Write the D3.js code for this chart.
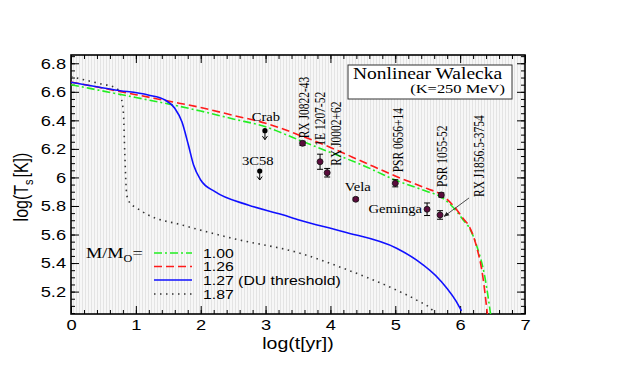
<!DOCTYPE html>
<html lang="en">
<head>
<meta charset="utf-8">
<title>Nonlinear Walecka cooling curves</title>
<style>
  body { margin: 0; background: #fff; }
  .sans { font-family: "Liberation Sans", Arial, sans-serif; }
  .serif { font-family: "Liberation Serif", "Times New Roman", serif; }
</style>
</head>
<body>
<svg id="chart" width="623" height="374"></svg>
<script src="https://d3js.org/d3.v7.min.js"></script>
<script>
// cooling curves, log(t[yr]) vs log(Ts[K])
const masses = ["1.00", "1.26", "1.27 (DU threshold)", "1.87"];

const age100 = [0, 0.5, 1.0, 1.5, 2.0, 2.5, 3.0, 3.5, 4.0, 4.5, 5.0, 5.5, 5.7, 5.95, 6.05, 6.13, 6.26, 6.38, 6.47];
const temp100 = [6.650, 6.605, 6.56, 6.515, 6.465, 6.41, 6.355, 6.265, 6.175, 6.085, 5.982, 5.90, 5.865, 5.76, 5.70, 5.655, 5.515, 5.305, 5.04];

const age126 = [0, 0.5, 1.0, 1.5, 2.0, 2.5, 3.0, 3.5, 4.0, 4.5, 5.0, 5.5, 5.7, 5.95, 6.05, 6.13, 6.25, 6.35, 6.42];
const temp126 = [6.668, 6.625, 6.58, 6.535, 6.49, 6.435, 6.38, 6.30, 6.21, 6.11, 6.01, 5.92, 5.882, 5.772, 5.71, 5.665, 5.52, 5.305, 5.04];

const age127 = [0, 0.68, 1.19, 1.45, 1.60, 1.71, 1.81, 1.89, 2.0, 2.22, 2.73, 3.25, 3.53, 4.2, 5.02, 5.33, 5.69, 6.0, 6.02];
const temp127 = [6.667, 6.613, 6.578, 6.543, 6.485, 6.39, 6.227, 6.087, 5.982, 5.90, 5.807, 5.74, 5.70, 5.62, 5.504, 5.42, 5.28, 5.083, 5.065];

const age187 = [0, 0.42, 0.70, 0.755, 0.79, 0.81, 0.83, 0.86, 0.91, 1.0, 1.19, 1.71, 2.48, 3.53, 4.2, 5.02, 5.33, 5.59, 5.62];
const temp187 = [6.706, 6.66, 6.625, 6.59, 6.52, 6.44, 6.157, 5.877, 5.82, 5.79, 5.737, 5.667, 5.574, 5.469, 5.363, 5.21, 5.14, 5.059, 5.04];

// observed pulsars
const starNames = ["Crab", "3C58", "RX J0822-43", "1E 1207-52", "RX J0002+62", "Vela",
                   "PSR 0656+14", "PSR 1055-52", "Geminga", "RX J1856.5-3754"];
const starAge = [2.99, 2.91, 3.57, 3.84, 3.95, 4.39, 5.0, 5.71, 5.49, 5.69];
const starTemp = [6.328, 6.045, 6.239, 6.11, 6.033, 5.847, 5.959, 5.877, 5.777, 5.737];
const starErr = [0, 0, 0.015, 0.053, 0.03, 0.01, 0.025, 0.015, 0.044, 0.03];
const starUpper = [true, true, false, false, false, false, false, false, false, false];

const xTicks = [0, 1, 2, 3, 4, 5, 6, 7];
const yTicks = [5.2, 5.4, 5.6, 5.8, 6, 6.2, 6.4, 6.6, 6.8];

const svg = d3.select("#chart");
const pLeft = 71, pRight = 525, pTop = 55, pBottom = 314;
const SX = 1.22; // the original is stretched sideways

const x = d3.scaleLinear().domain([0, 7]).range([pLeft, pRight]);
const y = d3.scaleLinear().domain([5.043, 6.858]).range([pBottom, pTop]);

// hatched background
const defs = svg.append("defs");
const pat = defs.append("pattern").attr("id", "hatch").attr("patternUnits", "userSpaceOnUse")
  .attr("width", 3).attr("height", 10);
pat.append("rect").attr("width", 3).attr("height", 10).attr("fill", "#f7f7f7");
pat.append("line").attr("x1", 1.5).attr("x2", 1.5).attr("y1", 0).attr("y2", 10)
  .attr("stroke", "#e4e4e4").attr("stroke-width", 1);
defs.append("clipPath").attr("id", "plotclip").append("rect")
  .attr("x", pLeft).attr("y", pTop).attr("width", pRight - pLeft).attr("height", pBottom - pTop);
defs.append("marker").attr("id", "arrowhead").attr("viewBox", "0 0 10 10")
  .attr("refX", 9).attr("refY", 5).attr("markerWidth", 7).attr("markerHeight", 7)
  .attr("orient", "auto").append("path").attr("d", "M0,1 L10,5 L0,9 z").attr("fill", "#222");

svg.append("rect").attr("x", pLeft).attr("y", pTop).attr("width", pRight - pLeft)
  .attr("height", pBottom - pTop).attr("fill", "url(#hatch)");

// axes with inward ticks
const xMinor = d3.range(0, 36).map(i => i / 5);
const yMinor = d3.range(101, 138).map(i => i / 20);

function fixText(sel) {
  sel.selectAll("text").attr("class", "sans").attr("font-size", 15)
    .attr("font-family", null).attr("transform", `scale(${SX},1)`);
  sel.select(".domain").remove();
}

svg.append("g").attr("transform", `translate(0,${pBottom})`)
  .call(d3.axisBottom(x).tickValues(xMinor).tickSize(-4).tickFormat("")).call(fixText);
svg.append("g").attr("transform", `translate(0,${pBottom})`)
  .call(d3.axisBottom(x).tickValues(xTicks).tickSize(-8).tickPadding(5).tickFormat(d3.format("d")))
  .call(fixText);
svg.append("g").attr("transform", `translate(0,${pTop})`)
  .call(d3.axisTop(x).tickValues(xMinor).tickSize(-4).tickFormat("")).call(fixText);
svg.append("g").attr("transform", `translate(0,${pTop})`)
  .call(d3.axisTop(x).tickValues(xTicks).tickSize(-8).tickFormat("")).call(fixText);

svg.append("g").attr("transform", `translate(${pLeft},0)`)
  .call(d3.axisLeft(y).tickValues(yMinor).tickSize(-4).tickFormat("")).call(fixText);
svg.append("g").attr("transform", `translate(${pLeft},0)`)
  .call(d3.axisLeft(y).tickValues(yTicks).tickSize(-8).tickPadding(4).tickFormat(d => String(+d.toFixed(1))))
  .call(fixText);
svg.append("g").attr("transform", `translate(${pRight},0)`)
  .call(d3.axisRight(y).tickValues(yMinor).tickSize(-4).tickFormat("")).call(fixText);
svg.append("g").attr("transform", `translate(${pRight},0)`)
  .call(d3.axisRight(y).tickValues(yTicks).tickSize(-8).tickFormat("")).call(fixText);

svg.selectAll(".tick line").attr("stroke", "#000").attr("stroke-width", 1);

svg.append("rect").attr("x", pLeft).attr("y", pTop).attr("width", pRight - pLeft)
  .attr("height", pBottom - pTop).attr("fill", "none").attr("stroke", "#000").attr("stroke-width", 1.6);

// axis titles
svg.append("text").attr("class", "sans").attr("font-size", 16)
  .attr("transform", `translate(298,349) scale(${SX},1)`).attr("text-anchor", "middle")
  .text("log(t[yr])");
const yt = svg.append("text").attr("class", "sans").attr("font-size", 16)
  .attr("transform", `translate(28,187) scale(${SX},1) rotate(-90)`).attr("text-anchor", "middle");
yt.append("tspan").text("log(T");
yt.append("tspan").attr("font-size", 11).attr("dy", 4).text("s");
yt.append("tspan").attr("dy", -4).attr("dx", 2).text("[K])");

// curves
const styles = [
  { color: "#22ee22", dash: "8,3,2,3" },
  { color: "#ff1a1a", dash: "8,4" },
  { color: "#1010ff", dash: null },
  { color: "#333", dash: "1.5,4.5" }
];
const series = [[age100, temp100], [age126, temp126], [age127, temp127], [age187, temp187]];
const line = d3.line().x(d => x(d[0])).y(d => y(d[1])).curve(d3.curveMonotoneX);
const curves = svg.append("g").attr("clip-path", "url(#plotclip)");
[3, 0, 1, 2].forEach(i => {
  const pts = series[i][0].map((a, k) => [a, series[i][1][k]]);
  curves.append("path").attr("d", line(pts)).attr("fill", "none")
    .attr("stroke", styles[i].color).attr("stroke-width", 1.6)
    .attr("stroke-dasharray", styles[i].dash);
});

// legend
const lg = svg.append("text").attr("class", "serif").attr("font-size", 15)
  .attr("transform", `translate(86,258) scale(${SX},1)`);
lg.append("tspan").text("M/M");
lg.append("tspan").attr("font-size", 10).attr("dy", 4).text("O");
lg.append("tspan").attr("dy", -4).text("=");
const legendY = [253, 266.5, 280, 294];
masses.forEach((m, i) => {
  svg.append("line").attr("x1", 154).attr("x2", 192).attr("y1", legendY[i]).attr("y2", legendY[i])
    .attr("stroke", styles[i].color).attr("stroke-width", 1.6).attr("stroke-dasharray", styles[i].dash);
  svg.append("text").attr("class", "sans").attr("font-size", 13.5).attr("dy", "0.36em")
    .attr("transform", `translate(203,${legendY[i]}) scale(1.17,1)`).text(m);
});

// title box
svg.append("rect").attr("x", 348).attr("y", 65).attr("width", 164).attr("height", 34)
  .attr("fill", "#fff").attr("stroke", "#333").attr("stroke-width", 1);
svg.append("text").attr("class", "serif").attr("font-size", 16)
  .attr("transform", `translate(353,79) scale(${SX},1)`).text("Nonlinear Walecka");
svg.append("text").attr("class", "serif").attr("font-size", 13.5).attr("text-anchor", "end")
  .attr("transform", `translate(505,93) scale(${SX},1)`).text("(K=250 MeV)");

// observations
const labelPos = {
  "Crab": { dx: 1, dy: -10, rot: false, anchor: "middle" },
  "3C58": { dx: -2, dy: -6, rot: false, anchor: "middle" },
  "RX J0822-43": { dx: 6, dy: -5, rot: true },
  "1E 1207-52": { dx: 5, dy: -16, rot: true },
  "RX J0002+62": { dx: 14, dy: -7, rot: true },
  "Vela": { dx: 2, dy: -8, rot: false, anchor: "middle" },
  "PSR 0656+14": { dx: 8, dy: -11, rot: true },
  "PSR 1055-52": { dx: 6, dy: -8, rot: true },
  "Geminga": { dx: -5, dy: 4, rot: false, anchor: "end" },
  "RX J1856.5-3754": { dx: 44, dy: -18, rot: true }
};

const obs = svg.append("g");
starNames.forEach((name, i) => {
  const px = x(starAge[i]), py = y(starTemp[i]);
  if (starUpper[i]) {
    obs.append("line").attr("x1", px).attr("x2", px).attr("y1", py).attr("y2", py + 9)
      .attr("stroke", "#000").attr("stroke-width", 1);
    obs.append("path").attr("d", `M${px - 2.5},${py + 5.5} L${px},${py + 9} L${px + 2.5},${py + 5.5}`)
      .attr("fill", "none").attr("stroke", "#000").attr("stroke-width", 1);
    obs.append("circle").attr("cx", px).attr("cy", py).attr("r", 2.6).attr("fill", "#000");
  } else {
    const e0 = y(starTemp[i] - starErr[i]), e1 = y(starTemp[i] + starErr[i]);
    obs.append("line").attr("x1", px).attr("x2", px).attr("y1", e0).attr("y2", e1)
      .attr("stroke", "#000").attr("stroke-width", 1);
    [e0, e1].forEach(ey => obs.append("line").attr("x1", px - 3).attr("x2", px + 3)
      .attr("y1", ey).attr("y2", ey).attr("stroke", "#000").attr("stroke-width", 1));
    obs.append("circle").attr("cx", px).attr("cy", py).attr("r", 3)
      .attr("fill", "#5a0c3c").attr("stroke", "#111").attr("stroke-width", 0.8);
  }
  const lp = labelPos[name];
  const t = obs.append("text").attr("class", "serif").text(name);
  if (lp.rot) {
    t.attr("font-size", 11.5)
      .attr("transform", `translate(${px + lp.dx},${py + lp.dy}) scale(${SX},1) rotate(-90)`);
  } else {
    t.attr("font-size", 12).attr("text-anchor", lp.anchor)
      .attr("transform", `translate(${px + lp.dx},${py + lp.dy}) scale(${SX},1)`);
  }
  if (name === "RX J1856.5-3754") {
    obs.append("line").attr("x1", px + 29).attr("y1", py - 17).attr("x2", px + 4).attr("y2", py + 1.5)
      .attr("stroke", "#222").attr("stroke-width", 0.8).attr("marker-end", "url(#arrowhead)");
  }
});
</script>
</body>
</html>
